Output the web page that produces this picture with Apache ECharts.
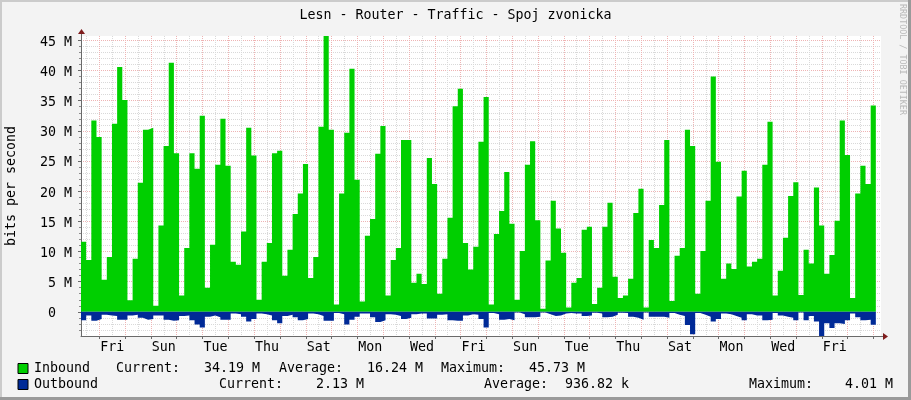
<!DOCTYPE html>
<html>
<head>
<meta charset="utf-8">
<title>Lesn - Router - Traffic - Spoj zvonicka</title>
<style>
html, body { margin: 0; padding: 0; background: #f3f3f3; }
#chart { width: 911px; height: 400px; }
</style>
<script src="https://cdn.jsdelivr.net/npm/echarts@6/dist/echarts.min.js"></script>
</head>
<body>
<div id="chart"></div>
<script>
// one value for each 4.8 hour sample, in Mbit/s
var inbound = [
    11.6, 8.6, 31.7, 29.0, 5.3, 9.1, 31.2, 40.6, 35.1, 1.9,
    8.8, 21.4, 30.2, 30.5, 1.0, 14.3, 27.5, 41.3, 26.3, 2.7,
    10.6, 26.3, 23.7, 32.5, 4.0, 11.1, 24.4, 32.0, 24.2, 8.3,
    7.8, 13.3, 30.5, 25.9, 2.0, 8.3, 11.4, 26.3, 26.7, 6.0,
    10.3, 16.2, 19.6, 24.5, 5.6, 9.1, 30.7, 45.73, 30.2, 1.2,
    19.6, 29.7, 40.3, 21.9, 1.7, 12.6, 15.4, 26.2, 30.8, 2.7,
    8.6, 10.6, 28.5, 28.5, 4.8, 6.3, 4.6, 25.5, 21.2, 3.0,
    8.8, 15.6, 34.1, 37.0, 11.4, 7.0, 10.8, 28.2, 35.6, 1.2,
    12.9, 16.7, 23.2, 14.6, 2.0, 10.1, 24.4, 28.3, 15.2, 0.5,
    8.5, 18.4, 13.8, 9.8, 0.7, 4.8, 5.6, 13.6, 14.1, 1.3,
    4.0, 14.1, 18.1, 5.8, 2.3, 2.7, 5.5, 16.4, 20.4, 0.7,
    11.9, 10.6, 17.7, 28.5, 1.8, 9.3, 10.6, 30.2, 27.5, 3.0,
    10.1, 18.4, 39.0, 24.9, 5.5, 8.0, 7.1, 19.1, 23.4, 7.5,
    8.3, 8.8, 24.4, 31.5, 2.7, 6.8, 12.3, 19.2, 21.5, 2.8,
    10.3, 8.0, 20.6, 14.3, 6.3, 9.4, 15.1, 31.7, 26.0, 2.3,
    19.6, 24.2, 21.2, 34.19
];
var outbound = [
    1.4, 0.6, 1.5, 1.2, 0.5, 0.6, 0.7, 1.3, 1.3, 0.6,
    0.5, 1.0, 1.3, 1.2, 0.6, 0.6, 1.3, 1.5, 1.4, 0.7,
    0.6, 1.4, 2.1, 2.6, 0.8, 0.6, 0.9, 1.3, 1.3, 0.3,
    0.4, 0.8, 1.6, 1.2, 0.3, 0.4, 0.6, 1.4, 1.9, 0.7,
    0.5, 0.9, 1.4, 1.2, 0.3, 0.4, 0.7, 1.5, 1.5, 0.2,
    0.4, 2.1, 1.3, 0.8, 0.3, 0.3, 0.9, 1.7, 1.4, 0.4,
    0.5, 0.7, 1.2, 1.0, 0.4, 0.3, 0.3, 1.1, 1.1, 0.5,
    0.4, 1.4, 1.5, 1.5, 0.6, 0.4, 0.5, 1.2, 2.6, 0.2,
    0.4, 1.3, 1.2, 1.4, 0.1, 0.4, 0.9, 0.9, 0.8, 0.1,
    0.4, 0.7, 0.6, 0.3, 0.2, 0.3, 0.3, 0.7, 0.6, 0.15,
    0.3, 0.9, 0.8, 0.5, 0.15, 0.2, 0.8, 1.0, 1.3, 0.1,
    0.8, 0.8, 0.8, 1.0, 0.2, 0.5, 0.7, 2.2, 3.7, 0.2,
    0.5, 0.8, 1.6, 1.2, 0.3, 0.4, 0.7, 1.0, 1.4, 0.4,
    0.6, 0.6, 1.4, 1.3, 0.2, 0.6, 0.8, 1.0, 1.4, 0.1,
    1.4, 0.7, 1.6, 4.01, 1.9, 2.7, 1.9, 2.0, 1.4, 0.3,
    0.9, 1.4, 1.3, 2.13
];
var dayLabels = ['Fri', 'Sun', 'Tue', 'Thu', 'Sat', 'Mon', 'Wed', 'Fri', 'Sun', 'Tue', 'Thu', 'Sat', 'Mon', 'Wed', 'Fri'];
var yMajorTicks = [0, 5, 10, 15, 20, 25, 30, 35, 40, 45];
var yMinorTicks = [-3, -2, -1, 1, 2, 3, 4, 6, 7, 8, 9, 11, 12, 13, 14, 16, 17, 18, 19, 21, 22, 23, 24, 26, 27, 28, 29, 31, 32, 33, 34, 36, 37, 38, 39, 41, 42, 43, 44];
var inboundStats = ['34.19 M', '16.24 M', '45.73 M'];
var outboundStats = ['2.13 M', '936.82 k', '4.01 M'];

var FONT = '"DejaVu Sans Mono", monospace';
var SLOTS_PER_DAY = 5;
var SLOTS_TOTAL = 155;
var FIRST_MIDNIGHT = 3.55; // first red line, in samples from the left edge

var dayLines = [], halfDayLines = [], labelSlots = [];
for (var d = 0; d < 31; d++) {
    dayLines.push(FIRST_MIDNIGHT + d * SLOTS_PER_DAY);
    halfDayLines.push(FIRST_MIDNIGHT + (d - 0.5) * SLOTS_PER_DAY);
}
for (var l = 0; l < dayLabels.length; l++) {
    labelSlots.push(FIRST_MIDNIGHT + (l * 2 + 0.5) * SLOTS_PER_DAY);
}

// a stepped area needs one more point to close the last sample
var toSteps = function (values, sign) {
    var points = values.map(function (v, i) { return [i, sign * v]; });
    points.push([values.length, sign * values[values.length - 1]]);
    return points;
};

var statText = function (text, x, y, color) {
    return {
        type: 'text', x: x, y: y, silent: true,
        style: { text: text, font: '13.3px ' + FONT, fill: color || '#000', textVerticalAlign: 'middle' }
    };
};

var legendFor = function (name, color, top) {
    return {
        left: 17.5,
        top: top,
        padding: 0,
        icon: 'rect',
        itemWidth: 10,
        itemHeight: 10,
        itemGap: 0,
        selectedMode: false,
        textStyle: { fontFamily: FONT, fontSize: 13.3, color: '#000', padding: [0, 0, 0, 1] },
        data: [{ name: name, itemStyle: { color: color, borderColor: '#000', borderWidth: 1 } }]
    };
};

var xBase = { type: 'value', min: 0, max: SLOTS_TOTAL, position: 'bottom' };
var yBase = { type: 'value', min: -4.01, max: 45.73, position: 'left' };
var axisLine = { show: true, onZero: false, lineStyle: { color: '#6a6a6a', width: 1 } };

var chart = echarts.init(document.getElementById('chart'));
chart.setOption({
    animation: false,
    backgroundColor: '#f3f3f3',
    title: {
        text: 'Lesn - Router - Traffic - Spoj zvonicka',
        left: 'center',
        top: 4,
        textStyle: { fontFamily: FONT, fontSize: 13.3, fontWeight: 'normal', color: '#000' }
    },
    grid: {
        left: 81, top: 36, width: 800, height: 300,
        outerBoundsMode: 'none',
        show: true, backgroundColor: '#fff', borderWidth: 0
    },
    legend: [legendFor('Inbound', '#00cf00', 362), legendFor('Outbound', '#002a97', 378)],
    xAxis: [
        Object.assign({}, xBase, {
            axisLine: axisLine,
            axisTick: { show: true, length: 3, customValues: dayLines, lineStyle: { color: '#6a6a6a' } },
            axisLabel: {
                customValues: labelSlots,
                margin: 5,
                fontFamily: FONT,
                fontSize: 13.3,
                color: '#000',
                formatter: function (v) {
                    return dayLabels[Math.round((v - FIRST_MIDNIGHT - 2.5) / 10)];
                }
            },
            splitLine: { show: true, lineStyle: { color: '#eeb4b4', type: [1, 1] } }
        }),
        Object.assign({}, xBase, {
            axisLine: { show: false },
            axisTick: { show: true, length: 2, customValues: halfDayLines, lineStyle: { color: '#8a8a8a' } },
            axisLabel: { show: false },
            splitLine: { show: true, lineStyle: { color: '#d9d9d9', type: [1, 1] } }
        })
    ],
    yAxis: [
        Object.assign({}, yBase, {
            name: 'bits per second',
            nameLocation: 'middle',
            nameGap: 63,
            nameRotate: 90,
            nameTextStyle: { fontFamily: FONT, fontSize: 13.3, color: '#000' },
            axisLine: axisLine,
            axisTick: { show: true, length: 3, customValues: yMajorTicks, lineStyle: { color: '#6a6a6a' } },
            axisLabel: {
                customValues: yMajorTicks,
                margin: 9,
                verticalAlign: 'top',
                lineHeight: 4,
                fontFamily: FONT,
                fontSize: 13.3,
                color: '#000',
                formatter: function (v) { return v === 0 ? '0  ' : v + ' M'; }
            },
            splitLine: { show: true, lineStyle: { color: '#eeb4b4', type: [1, 1] } }
        }),
        Object.assign({}, yBase, {
            axisLine: { show: false },
            axisTick: { show: true, length: 2, customValues: yMinorTicks, lineStyle: { color: '#8a8a8a' } },
            axisLabel: { show: false },
            splitLine: { show: true, lineStyle: { color: '#d9d9d9', type: [1, 1] } }
        })
    ],
    series: [
        {
            name: 'Inbound',
            type: 'line',
            step: 'end',
            symbol: 'none',
            lineStyle: { width: 0 },
            itemStyle: { color: '#00cf00' },
            areaStyle: { color: '#00cf00', opacity: 1 },
            data: toSteps(inbound, 1),
            z: 3
        },
        {
            name: 'Outbound',
            type: 'line',
            step: 'end',
            symbol: 'none',
            lineStyle: { width: 0 },
            itemStyle: { color: '#002a97' },
            areaStyle: { color: '#002a97', opacity: 1 },
            data: toSteps(outbound, -1),
            z: 3
        }
    ],
    graphic: [
        // frame of the image
        { type: 'rect', z: 10, silent: true, shape: { x: 0, y: 0, width: 911, height: 2 }, style: { fill: '#cbcbcb' } },
        { type: 'rect', z: 10, silent: true, shape: { x: 0, y: 0, width: 2, height: 400 }, style: { fill: '#cbcbcb' } },
        { type: 'rect', z: 10, silent: true, shape: { x: 0, y: 397, width: 911, height: 3 }, style: { fill: '#9a9a9a' } },
        { type: 'rect', z: 10, silent: true, shape: { x: 908, y: 0, width: 3, height: 400 }, style: { fill: '#9a9a9a' } },
        // axis ends
        { type: 'rect', z: 10, silent: true, shape: { x: 81, y: 33, width: 1, height: 3 }, style: { fill: '#6a6a6a' } },
        { type: 'polygon', z: 10, silent: true, shape: { points: [[81.5, 29], [78, 34], [85, 34]] }, style: { fill: '#7f1d1d' } },
        { type: 'rect', z: 10, silent: true, shape: { x: 881, y: 336, width: 2, height: 1 }, style: { fill: '#6a6a6a' } },
        { type: 'polygon', z: 10, silent: true, shape: { points: [[888, 336.5], [883, 333], [883, 340]] }, style: { fill: '#7f1d1d' } },
        // watermark
        {
            type: 'text', x: 902, y: 4, rotation: -Math.PI / 2, silent: true,
            style: { text: 'RRDTOOL / TOBI OETIKER', font: '8.4px ' + FONT, fill: '#b8b8b8', textVerticalAlign: 'middle' }
        },
        // legend figures
        statText('Current:', 116, 369),
        statText(inboundStats[0], 204, 369),
        statText('Average:', 279, 369),
        statText(inboundStats[1], 367, 369),
        statText('Maximum:', 441, 369),
        statText(inboundStats[2], 529, 369),
        statText('Current:', 219, 385),
        statText(outboundStats[0], 316, 385),
        statText('Average:', 484, 385),
        statText(outboundStats[1], 565, 385),
        statText('Maximum:', 749, 385),
        statText(outboundStats[2], 845, 385)
    ]
});
</script>
</body>
</html>
